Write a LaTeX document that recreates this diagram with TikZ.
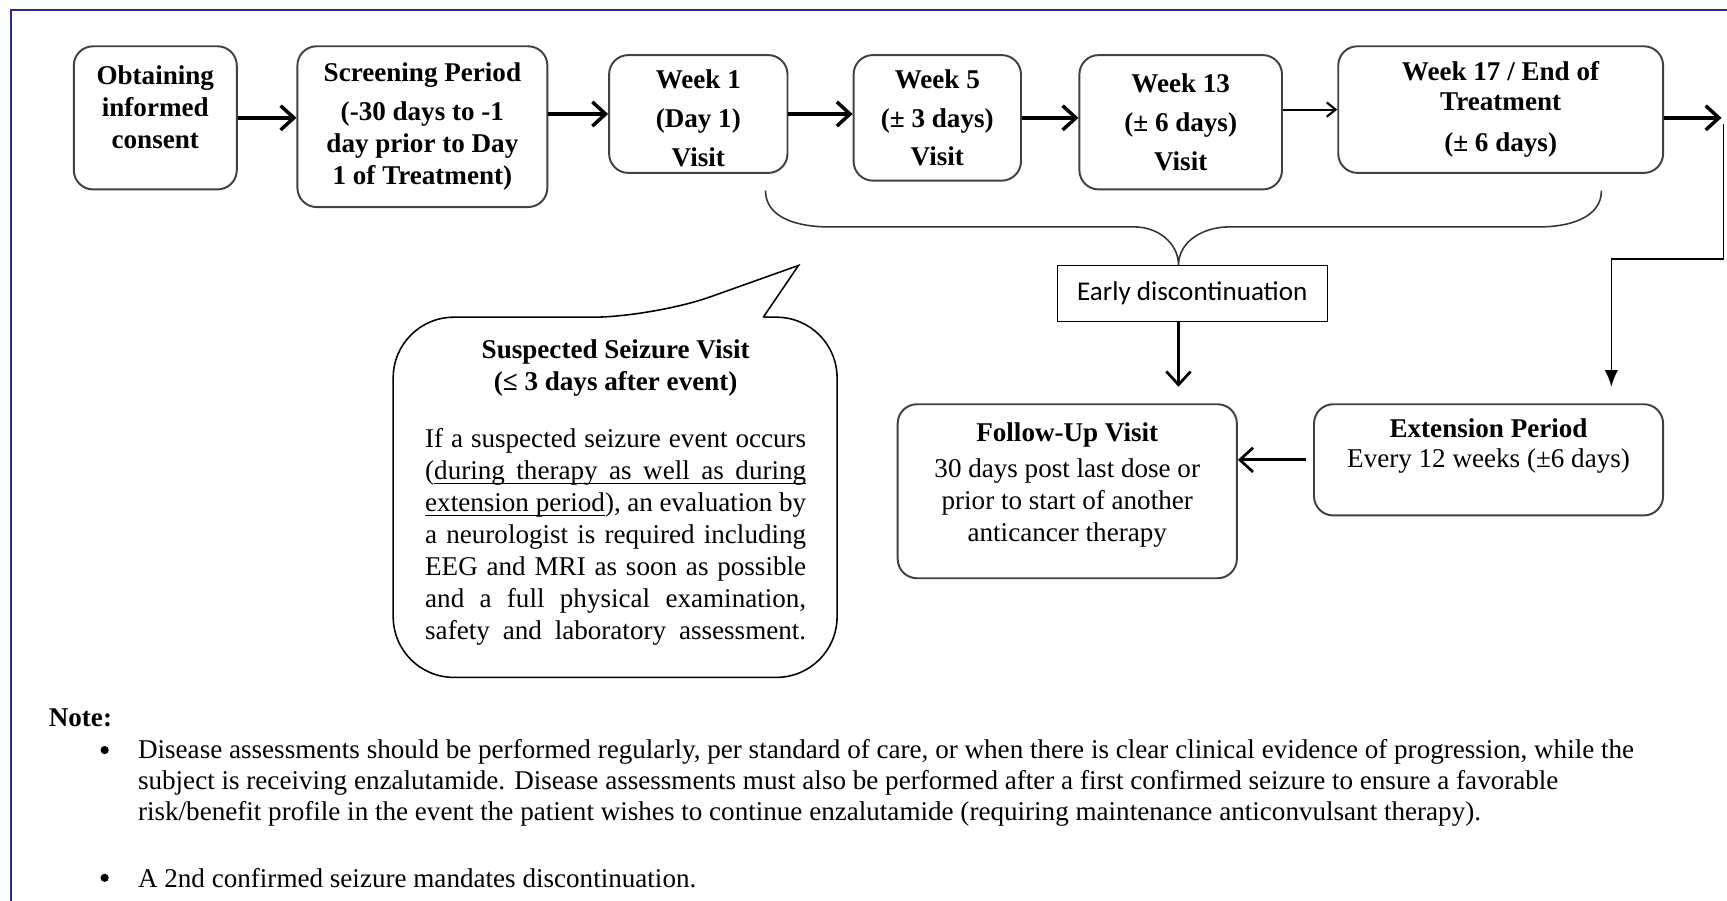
\documentclass[tikz,border=0pt]{standalone}
\usepackage{fontspec}
\setmainfont{Liberation Serif}
\newfontfamily\earlyfont{Carlito}
\usetikzlibrary{arrows.meta,calc}
\definecolor{frameblue}{RGB}{40,40,150}
\newcommand{\jline}[1]{\makebox[6.92cm][s]{#1}}
\newcommand{\uw}[1]{\leavevmode\setbox0\hbox{#1}\rlap{\rule[-2.6pt]{\wd0}{0.6pt}}\box0}
\newcommand{\ugap}{\leaders\hrule height -2.0pt depth 2.6pt\hskip 0.25em plus 1em}

\begin{document}
\begin{tikzpicture}[x=0.02cm,y=0.02cm,font=\fontsize{14}{16.5}\selectfont,
    visit/.style={draw=black!75,line width=1pt,rounded corners=0.35cm,align=center,inner sep=2pt},
    arr/.style={-{Straight Barb[length=2.4mm,width=4.4mm]},line width=1.8pt},
    smallarr/.style={-{Straight Barb[length=1.6mm,width=2.6mm]},line width=1.1pt},
    downarr/.style={-{Latex[length=3mm,width=2.4mm]},line width=0.8pt},
    dot/.style={circle,fill,inner sep=0,minimum size=0.15cm}]
    \useasboundingbox (0,0) rectangle (1568,-818);
    \draw[frameblue,line width=1.2pt] (10,-818) -- (10,-9) -- (1568,-9);

    \node[visit,minimum width=2.96cm,minimum height=2.6cm] (consent) at (141,-107)
      {\textbf{Obtaining}\\\textbf{informed}\\\textbf{consent}\\[-5pt]\mbox{}};
    \node[visit,minimum width=4.54cm,minimum height=2.92cm] (screen) at (383.5,-115)
      {\textbf{Screening Period}\\[3.5pt]\textbf{(-30 days to -1}\\\textbf{day prior to Day}\\\textbf{1 of Treatment)}};
    \node[visit,minimum width=3.24cm,minimum height=2.14cm] (wk1) at (634,-103.5)
      {\rule{0pt}{14pt}\textbf{Week 1}\\[3.5pt]\textbf{(Day 1)}\\[3.5pt]\textbf{Visit}};
    \node[visit,minimum width=3.04cm,minimum height=2.28cm] (wk5) at (851,-107)
      {\textbf{Week 5}\\[3.5pt]\textbf{(± 3 days)}\\[3.5pt]\textbf{Visit}};
    \node[visit,minimum width=3.68cm,minimum height=2.44cm] (wk13) at (1072,-111)
      {\textbf{Week 13}\\[3.5pt]\textbf{(± 6 days)}\\[3.5pt]\textbf{Visit}};
    \node[visit,minimum width=5.9cm,minimum height=2.3cm] (wk17) at (1362.5,-99.5)
      {\textbf{Week 17 / End of}\\[-1pt]\textbf{Treatment}\\[4.5pt]\textbf{(± 6 days)}};

    \draw[arr] (consent.east) -- (consent.east -| screen.west);
    \draw[arr] (wk1.west -| screen.east) -- (wk1.west);
    \draw[arr] (wk1.east) -- (wk1.east -| wk5.west);
    \draw[arr] (wk5.east) -- (wk5.east -| wk13.west);
    \draw[smallarr] (wk17.west -| wk13.east) -- (wk17.west);
    \coordinate (rtop) at (1563,-107);
    \draw[arr] (wk17.east |- rtop) -- (rtop);

    \coordinate (tip) at (1070,-241);
    \draw[line width=0.8pt,black!80] (695,-173) to[out=-90,in=180] (752,-206) -- (1030,-206)
      to[out=0,in=90] (tip) to[out=90,in=180] (1116,-206) -- (1398,-206) to[out=0,in=-90] (1454,-173);

    \node[draw,line width=0.7pt,minimum width=4.9cm,minimum height=1.02cm] (early) at (1082.5,-266.5)
      {\earlyfont Early discontinuation};
    \node[visit,minimum width=6.16cm,minimum height=3.16cm] (fu) at (969,-446)
      {\textbf{Follow-Up Visit}\\[2pt]30 days post last dose or\\prior to start of another\\anticancer therapy\\[-7pt]\mbox{}};
    \node[visit,minimum width=6.34cm,minimum height=2.02cm] (ext) at (1351.5,-417.5)
      {\textbf{Extension Period}\\[-1pt]Every 12 weeks (±6 days)\\[0.5pt]\mbox{}};

    \draw[arr,line width=1.4pt,shorten >=0.3cm] (early.south -| tip) -- (tip |- fu.north);
    \draw[arr,line width=1.4pt,shorten <=0.12cm] (ext.west) -- (ext.west -| fu.east);
    \coordinate (rjoin) at (1565,-113);
    \coordinate (relbow) at (1463,-235);
    \draw[downarr,shorten >=0.3cm] (rjoin) |- (relbow) -- (relbow |- ext.north);

    \draw[line width=0.8pt] (693,-288) [rounded corners=1.1cm] -- (760,-288) -- (760,-615) -- (357,-615)
      -- (357,-288) -- (593,-288) [sharp corners] -- (725,-241) -- (693,-288);
    \node[align=center,inner sep=0] (seizure) at (559,-447)
      {\textbf{Suspected Seizure Visit}\\\textbf{(≤ 3 days after event)}\\[13pt]
       \jline{If a suspected seizure event occurs}\\
       \jline{(\uw{during}\ugap\uw{therapy}\ugap\uw{as}\ugap\uw{well}\ugap\uw{as}\ugap\uw{during}}\\
       \jline{\uw{extension}\ugap\uw{period}), an evaluation by}\\
       \jline{a neurologist is required including}\\
       \jline{EEG and MRI as soon as possible}\\
       \jline{and a full physical examination,}\\
       \jline{safety and laboratory assessment.}};

    \node[anchor=west,inner sep=0] (note) at (44,-652) {\textbf{Note:}};
    \node[dot] (bul1) at (95,-681) {};
    \node[anchor=north west,align=left,inner sep=0,font=\fontsize{14}{16}\selectfont] (item1) at (125,-671)
      {Disease assessments should be performed regularly, per standard of care, or when there is clear clinical evidence of progression, while the\\
       subject is receiving enzalutamide. Disease assessments must also be performed after a first confirmed seizure to ensure a favorable\\
       risk/benefit profile in the event the patient wishes to continue enzalutamide (requiring maintenance anticonvulsant therapy).};
    \node[dot] (bul2) at (95,-797) {};
    \node[anchor=west,inner sep=0] (item2) at (125,-797) {A 2nd confirmed seizure mandates discontinuation.};
\end{tikzpicture}
\end{document}
